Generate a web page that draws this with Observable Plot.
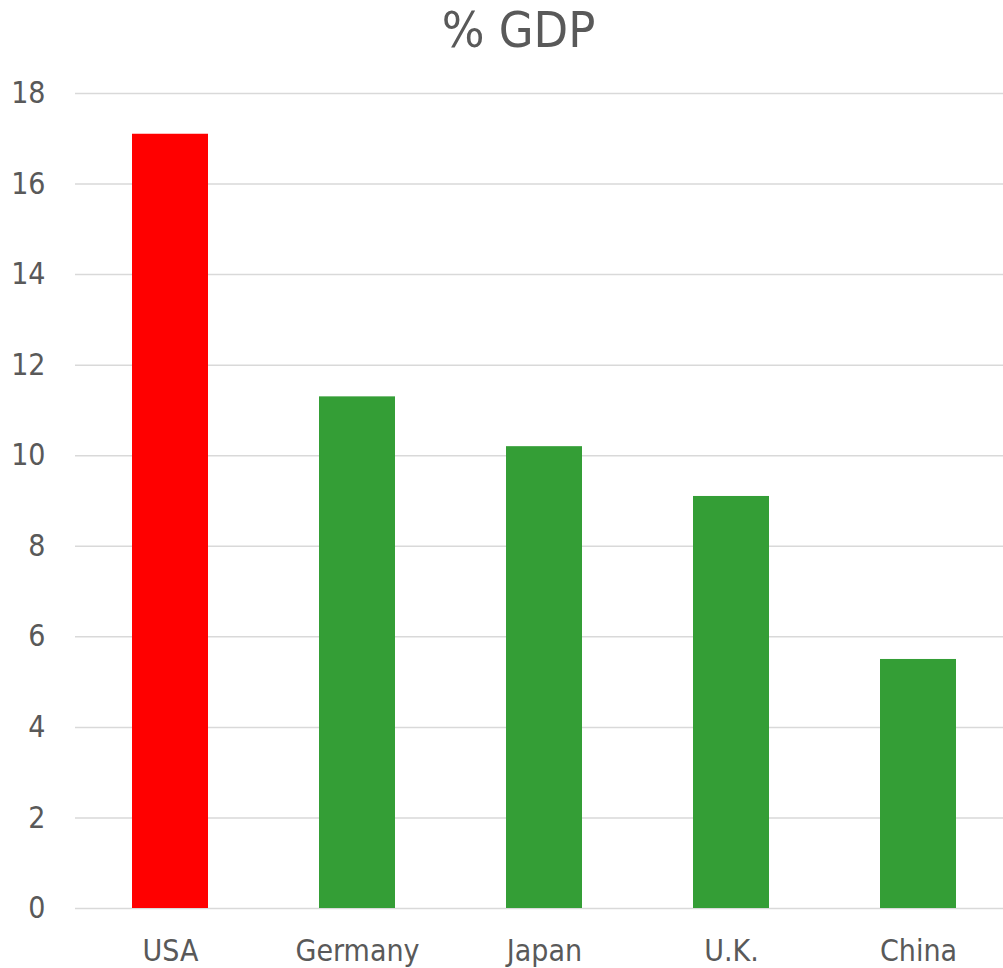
<!DOCTYPE html>
<html>
<head>
<meta charset="utf-8">
<script src="https://cdn.jsdelivr.net/npm/d3@7"></script>
<script src="https://cdn.jsdelivr.net/npm/@observablehq/plot@0.6"></script>
<style>
  html, body { margin: 0; padding: 0; background: #fff; }
  body { width: 1003px; height: 968px; overflow: hidden; font-family: "DejaVu Sans Condensed", "DejaVu Sans", sans-serif; }
  #title { height: 65px; line-height: 60px; text-align: center; font-size: 50px; color: #595959; margin: 0; font-weight: normal; padding-left: 34px; box-sizing: border-box; }
</style>
</head>
<body>
<div id="title">% GDP</div>
<div id="chart"></div>
<script>
const countries = ["USA", "Germany", "Japan", "U.K.", "China"];
const values = [17.1, 11.3, 10.2, 9.1, 5.5];
const barColors = ["#FF0000", "#349E36", "#349E36", "#349E36", "#349E36"];
const yTicks = [0, 2, 4, 6, 8, 10, 12, 14, 16, 18];

const data = countries.map((c, i) => ({country: c, value: values[i], color: barColors[i]}));

const chart = Plot.plot({
  width: 1003,
  height: 903,
  marginTop: 28,
  marginBottom: 60,
  marginLeft: 75,
  marginRight: 0,
  style: {fontFamily: '"DejaVu Sans Condensed", "DejaVu Sans", sans-serif', fontSize: "30px", color: "#595959", background: "#fff"},
  x: {domain: countries, range: [75, 1012.5], paddingInner: 0.595, paddingOuter: 0.2975, label: null},
  y: {domain: [0, 18], label: null},
  marks: [
    Plot.ruleY(yTicks, {stroke: "#D9D9D9", strokeWidth: 1.5, strokeOpacity: 1}),
    Plot.barY(data, {x: "country", y: "value", fill: "color"}),
    Plot.axisY(yTicks, {tickSize: 0, tickPadding: 30, fontSize: 30, fill: "#595959", label: null}),
    Plot.axisX({tickSize: 0, tickPadding: 31, fontSize: 30, fill: "#595959", label: null})
  ]
});
document.getElementById("chart").appendChild(chart);
</script>
</body>
</html>
